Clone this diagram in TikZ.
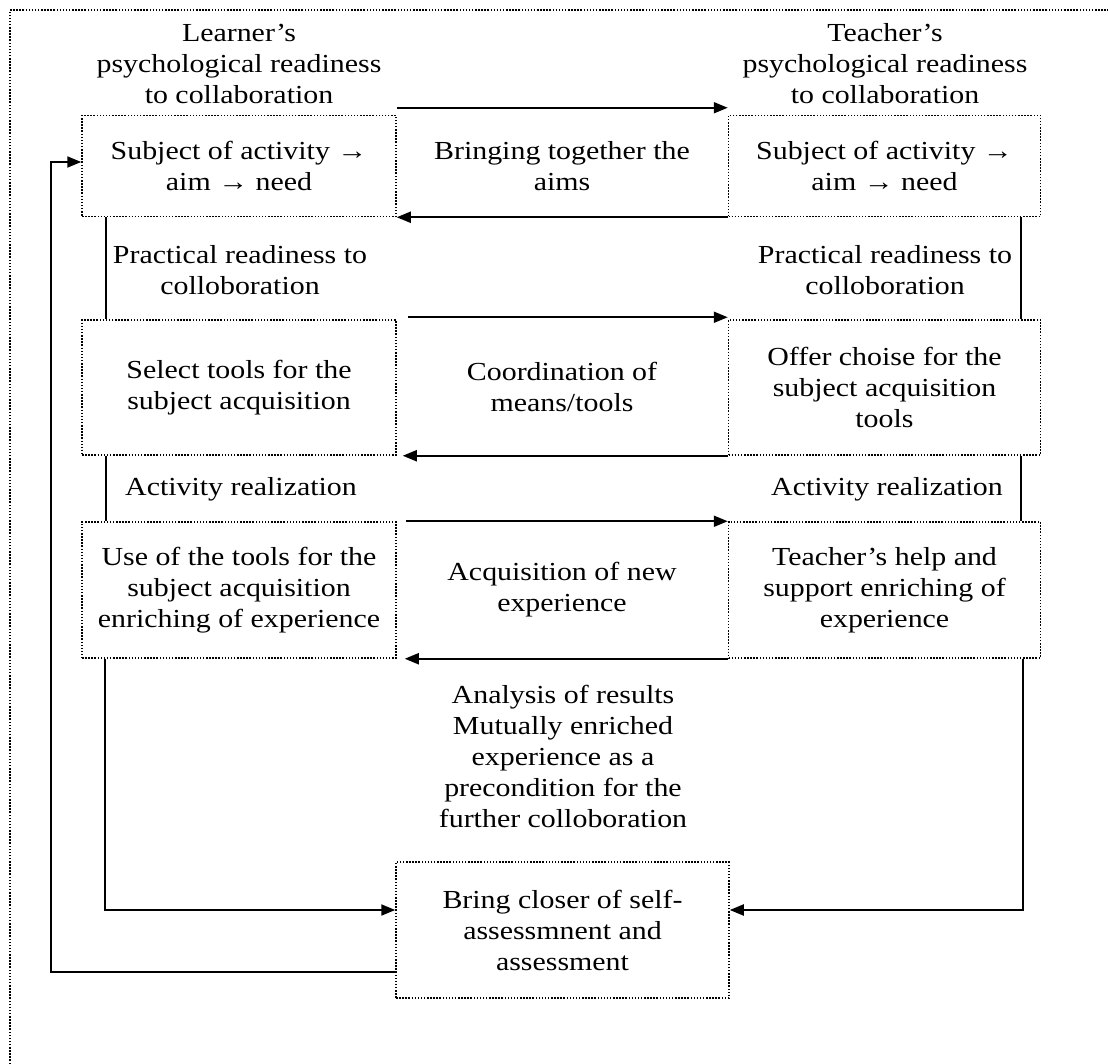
\documentclass[tikz,border=0pt]{standalone}
\usepackage{fontspec}
\setmainfont{Liberation Serif}[FakeStretch=1.15]
\usetikzlibrary{arrows.meta}
\tikzset{
        txt/.style = {align=center, inner sep=0pt,
            font=\fontsize{26}{31}\selectfont},
        stage_l/.style = {txt, draw=black, dash pattern=on 1.5pt off 1.6pt,
            line width=1.5pt, minimum width=314pt},
        stage_r/.style = {stage_l, minimum width=312pt},
        stage_b/.style = {stage_l, minimum width=333pt, minimum height=136pt},
        flow/.style = {-{Triangle[length=14pt,width=11pt]}, line width=2pt},
        link/.style = {line width=2pt}
    }
\begin{document}
\begin{tikzpicture}[x=1pt, y=-1pt]
    \useasboundingbox (0,0) rectangle (1108,1064);
    % outer frame
    \draw[dash pattern=on 1.5pt off 1.6pt, line width=1.5pt] (10,1064) -- (10,10) -- (1108,10);
    % learner / teacher headings
    \node [txt] (lhead) at (239,64) {Learner’s\\psychological readiness\\to collaboration};
    \node [txt] (thead) at (885,64) {Teacher’s\\psychological readiness\\to collaboration};
    % stage 1
    \node [stage_l, minimum height=101pt] (lsub) at (239,166) {Subject of activity →\\aim → need};
    \node [stage_r, minimum height=101pt] (tsub) at (884.5,166) {Subject of activity →\\aim → need};
    \node [txt] (aims) at (562,166) {Bringing together the\\aims};
    \node [txt] (lprac) at (240,270) {Practical readiness to\\colloboration};
    \node [txt] (tprac) at (885,270) {Practical readiness to\\colloboration};
    % stage 2
    \node [stage_l, minimum height=135pt] (lsel) at (239,387.5) {Select tools for the\\subject acquisition};
    \node [stage_r, minimum height=135pt] (toff) at (884.5,387.5) {Offer choise for the\\subject acquisition\\tools};
    \node [txt] (means) at (562,387) {Coordination of\\means/tools};
    \node [txt] (lact) at (241,489) {Activity realization};
    \node [txt] (tact) at (887,489) {Activity realization};
    % stage 3
    \node [stage_l, minimum height=136pt] (luse) at (239,590) {Use of the tools for the\\subject acquisition\\enriching of experience};
    \node [stage_r, minimum height=136pt] (thelp) at (884.5,590) {Teacher’s help and\\support enriching of\\experience};
    \node [txt] (newexp) at (562,590) {Acquisition of new\\experience};
    \node [txt] (analysis) at (563,756) {Analysis of results\\Mutually enriched\\experience as a\\precondition for the\\further colloboration};
    % result
    \node [stage_b] (bring) at (562.5,930) {Bring closer of self-\\assessmnent and\\assessment};

    \draw[flow] ([yshift=7pt]lsub.north east) -- ([yshift=7pt]tsub.north west);
    \draw[flow] (tsub.south west) -- (lsub.south east);
    \draw[flow] ([xshift=11pt,yshift=2pt]lsel.north east) -- ([yshift=2pt]toff.north west);
    \draw[flow] (toff.south west) -- ([xshift=6pt]lsel.south east);
    \draw[flow] ([xshift=9pt]luse.north east) -- (thelp.north west);
    \draw[flow] (thelp.south west) -- ([xshift=8pt]luse.south east);

    \draw[link] ([xshift=25pt]lsub.south west) -- ([xshift=25pt]lsel.north west);
    \draw[link] ([xshift=25pt]lsel.south west) -- ([xshift=25pt]luse.north west);
    \draw[link] ([xshift=-20pt]tsub.south east) -- ([xshift=-20pt]toff.north east);
    \draw[link] ([xshift=-20pt]toff.south east) -- ([xshift=-20pt]thelp.north east);

    \draw[flow] ([xshift=24pt]luse.south west) |- ([yshift=20pt]bring.west);
    \draw[flow] ([xshift=-18pt]thelp.south east) |- ([yshift=20pt]bring.east);
    \draw[flow] ([yshift=-42pt]bring.west) -- ++(-344,0) |- ([yshift=4pt]lsub.west);
\end{tikzpicture}
\end{document}
